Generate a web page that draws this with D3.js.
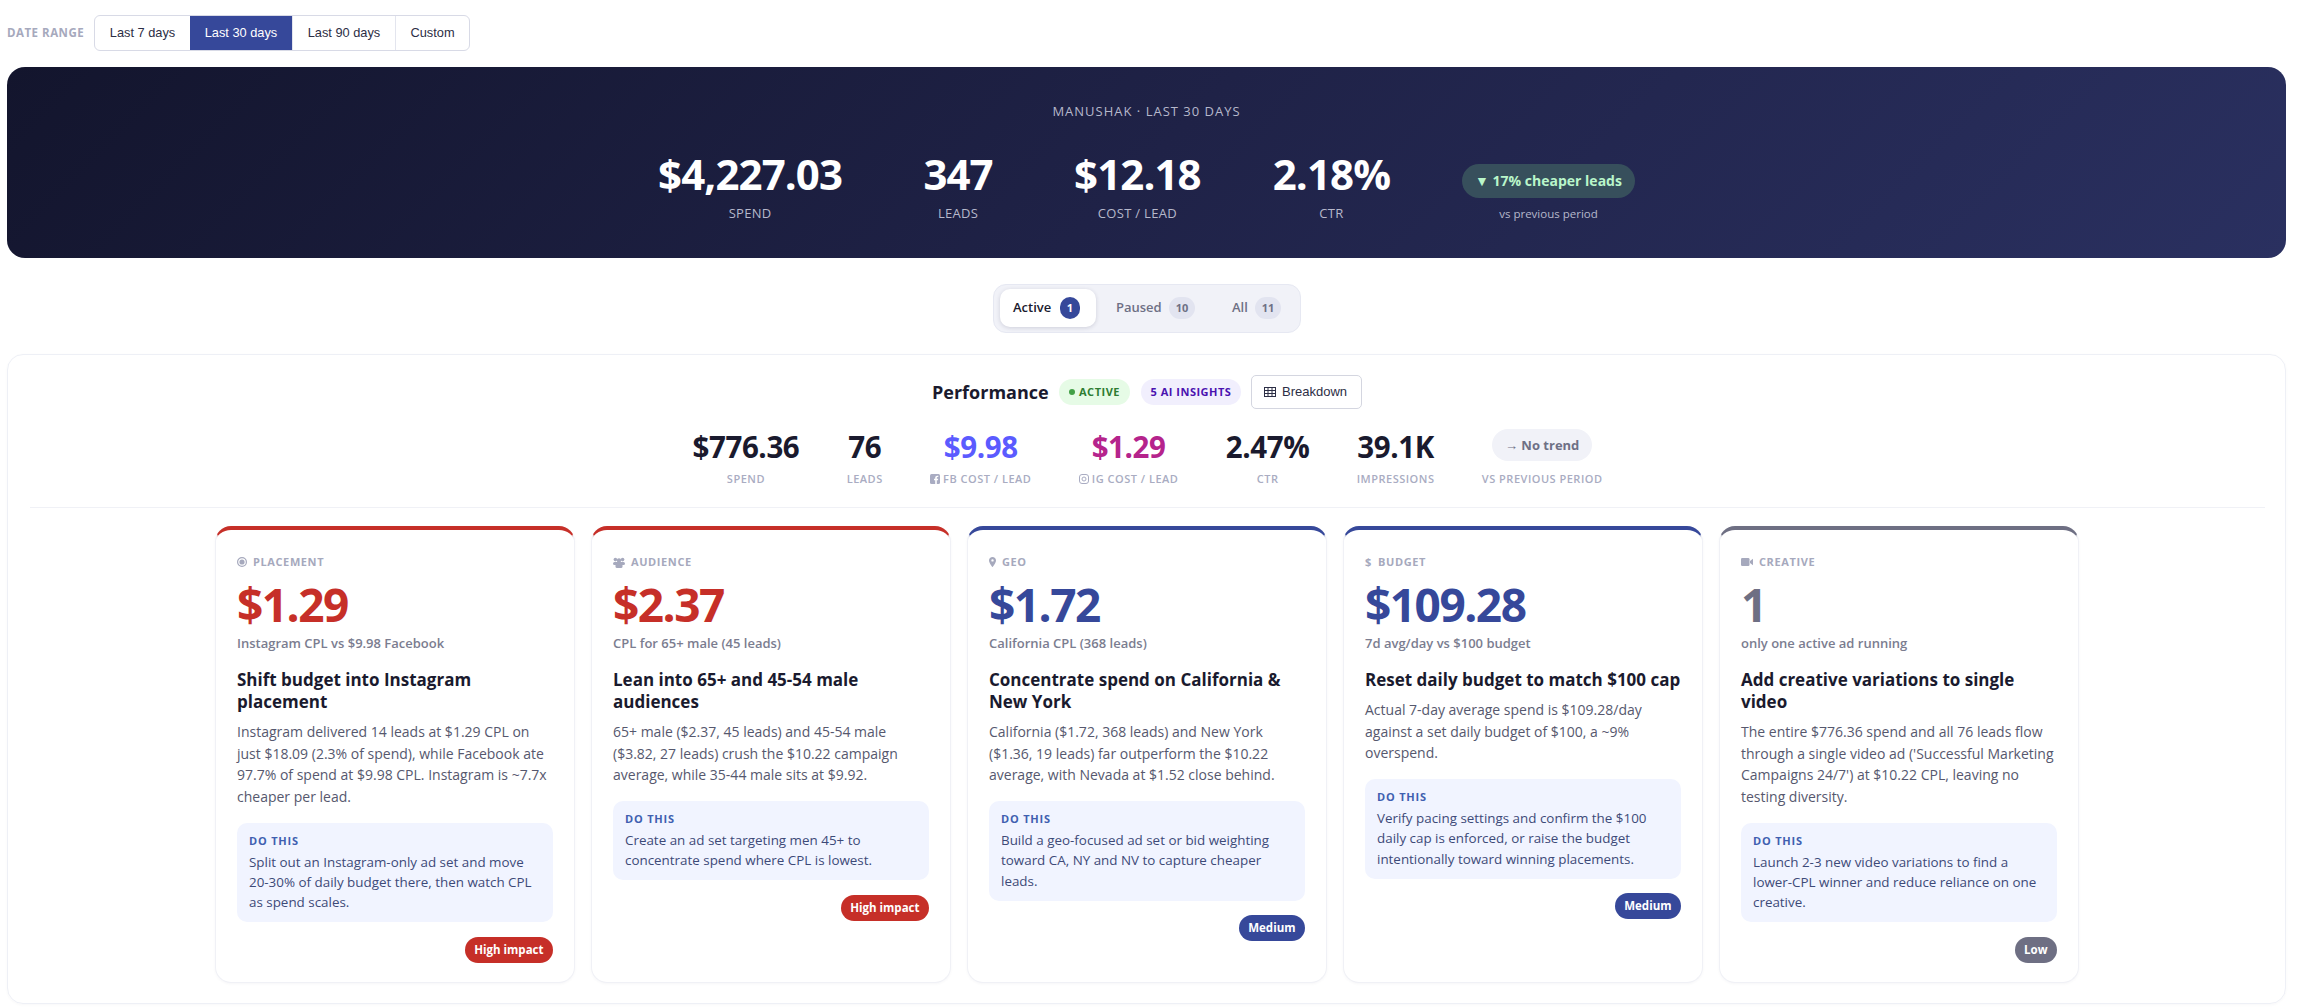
<!DOCTYPE html>
<html>
<head>
<meta charset="utf-8">
<title>Manushak performance</title>
<script src="https://cdn.jsdelivr.net/npm/d3@7"></script>
<style>
  html, body { margin: 0; background: #fff; width: 2299px; height: 1008px; overflow: hidden; }
  body { font-family: "Open Sans", sans-serif; position: relative; color: #1a1a2e; }
  .abs { position: absolute; }
  .row { display: flex; justify-content: center; align-items: flex-start; }

  #rangeLabel { left: 7px; top: 25px; font-size: 11.5px; line-height: 16px; font-weight: 700; letter-spacing: .5px; color: #a6a9bd; }
  #range { left: 94px; top: 15px; height: 34px; display: flex; border: 1px solid #d8dae6; border-radius: 6px; overflow: hidden; font-family: "Liberation Sans", Arial, sans-serif; font-size: 12.8px; }
  #range div { line-height: 34px; text-align: center; color: #2c2e45; border-left: 1px solid #e3e5ee; }
  #range div:first-child { border-left: 0; }
  #range div.on { background: #36489a; color: #fff; border-left: 0; }

  #hero { left: 7px; top: 67px; width: 2279px; height: 191px; border-radius: 18px; background: linear-gradient(135deg, #13152d 0%, #1f2247 50%, #2a3060 100%); color: #fff; }
  #heroTitle { left: 0; right: 0; top: 35px; text-align: center; font-size: 13px; line-height: 18px; letter-spacing: 1px; color: #b6b8cb; }
  #heroRow { left: 0; right: 0; top: 81.7px; gap: 72px; }
  .hItem { min-width: 88px; text-align: center; }
  .hVal { font-size: 42px; line-height: 50px; font-weight: 700; letter-spacing: -.9px; white-space: nowrap; }
  .hLab { margin-top: 5.9px; font-size: 13px; line-height: 16px; color: #b6b8cb; letter-spacing: .3px; white-space: nowrap; }
  #heroPill { margin-top: 15px; height: 34px; line-height: 34px; padding: 0 13px; border-radius: 17px; background: #374f5c; color: #b9f6ca; font-size: 14px; font-weight: 700; white-space: nowrap; }
  #heroSub { margin-top: 8px; font-size: 11.5px; line-height: 16px; color: #b6b8cb; text-align: center; }

  #seg { left: 993px; top: 284px; width: 306px; height: 47px; border: 1px solid #e6e8f2; border-radius: 13px; background: #f1f2f8; }
  .tab { position: absolute; top: 4px; height: 38px; line-height: 36px; font-size: 13px; font-weight: 600; color: #6e7085; white-space: nowrap; }
  .tab.on { background: #fff; border-radius: 10px; box-shadow: 0 1px 4px rgba(30,30,70,.16); color: #1a1a2e; }
  .tab b { position: absolute; top: 8px; height: 22px; line-height: 22px; border-radius: 11px; text-align: center; font-size: 11px; font-weight: 700; background: #e2e4f0; color: #6e7085; }
  .tab.on b { background: #36489a; color: #fff; }

  #main { left: 7px; top: 354px; width: 2277px; height: 648px; border: 1px solid #eef0f6; border-radius: 16px; box-shadow: 0 1px 3px rgba(30,30,70,.03); }
  #perfHead { left: 0; top: 375px; width: 2299px; height: 34px; }
  #perfHead > * { position: absolute; white-space: nowrap; }
  #perfTitle { left: 932px; top: 5px; font-size: 18px; line-height: 24px; font-weight: 700; color: #1a1a2e; }
  .hp { top: 4px; height: 26px; line-height: 26px; border-radius: 13px; font-size: 11px; font-weight: 700; letter-spacing: .5px; text-align: center; }
  #pActive { left: 1059px; width: 71px; background: #e6fbe6; color: #2e7d32; }
  #pActive i { display: inline-block; width: 6px; height: 6px; border-radius: 50%; background: #43a047; margin-right: 4px; vertical-align: 1px; }
  #pInsights { left: 1141px; width: 100px; background: #f1effd; color: #4a12b0; }
  #breakdown { left: 1251px; top: 0; width: 109px; height: 32px; border: 1px solid #d4d6e0; border-radius: 5px; font-family: "Liberation Sans", Arial, sans-serif; font-size: 13px; line-height: 32px; color: #2c2e45; background: #fff; }
  #breakdown svg { position: absolute; left: 12px; top: 10px; }
  #breakdown span { position: absolute; left: 30px; top: 0; }

  #statRow { left: -2px; width: 2299px; top: 426.7px; gap: 47.4px; }
  .sItem { text-align: center; }
  .sVal { font-size: 29.5px; line-height: 40px; font-weight: 700; letter-spacing: -.4px; white-space: nowrap; height: 40px; }
  .sLab { margin-top: 5.3px; font-size: 11px; line-height: 14px; font-weight: 600; letter-spacing: .5px; color: #a9acc2; white-space: nowrap; }
  .sLab svg { vertical-align: -1.5px; margin-right: 3px; }
  .sPill { display: inline-block; vertical-align: top; margin-top: 2.3px; height: 32px; line-height: 32px; padding: 0 13px; border-radius: 16px; background: #f1f2f8; color: #6e7085; font-size: 13px; font-weight: 700; letter-spacing: 0; }
  #rule { left: 30px; width: 2235px; top: 507px; height: 1px; background: #f0f1f6; }

  .card { box-sizing: border-box; border: 1px solid #f0f1f6; border-top-width: 4px; border-top-style: solid; border-radius: 16px; top: 526px; height: 457px; padding: 24px 21px 0; box-shadow: 0 1px 3px rgba(30,30,70,.04); background: #fff; }
  .cat { height: 16px; line-height: 16px; font-size: 11px; font-weight: 700; letter-spacing: .6px; color: #a6a9bd; display: flex; align-items: center; gap: 6px; }
  .big { margin-top: 9.3px; font-size: 46px; line-height: 50px; font-weight: 700; letter-spacing: -1.5px; }
  .sub { margin-top: 5px; font-size: 13px; line-height: 18px; font-weight: 600; color: #7b7d90; }
  .ttl { margin-top: 16.5px; font-size: 17px; line-height: 22px; font-weight: 700; color: #1a1a2e; white-space: pre-line; }
  .txt { margin-top: 8.5px; font-size: 14px; line-height: 21.6px; color: #56586e; white-space: pre-line; }
  .box { margin-top: 15px; padding: 12px 12px 9.5px; background: #f1f4ff; border-radius: 10px; }
  .boxT { font-size: 11px; line-height: 12px; font-weight: 700; letter-spacing: .8px; color: #3f5fb0; margin-bottom: 5px; }
  .boxB { font-size: 13.4px; line-height: 20.4px; color: #3d4a78; white-space: pre-line; }
  .bWrap { margin-top: 14.3px; display: flex; justify-content: flex-end; }
  .badge { height: 26px; line-height: 26px; border-radius: 13px; padding: 0 9.5px; color: #fff; font-size: 11.5px; font-weight: 700; }
</style>
</head>
<body>
<script>
// Date range buttons
const rangeOptions = ["Last 7 days", "Last 30 days", "Last 90 days", "Custom"];
const rangeActive = "Last 30 days";

// Account summary
const heroTitle = "MANUSHAK \u00b7 LAST 30 DAYS";
const heroLabels = ["SPEND", "LEADS", "COST / LEAD", "CTR"];
const heroValues = ["$4,227.03", "347", "$12.18", "2.18%"];
const heroTrend = "\u25bc 17% cheaper leads";
const heroTrendNote = "vs previous period";

// Status tabs
const tabNames = ["Active", "Paused", "All"];
const tabCounts = [1, 10, 11];

// Campaign stats
const statLabels = ["SPEND", "LEADS", "FB COST / LEAD", "IG COST / LEAD", "CTR", "IMPRESSIONS"];
const statValues = ["$776.36", "76", "$9.98", "$1.29", "2.47%", "39.1K"];
const statColors = ["#1a1a2e", "#1a1a2e", "#5b5bff", "#b5248c", "#1a1a2e", "#1a1a2e"];

// Insight cards
const categories = ["PLACEMENT", "AUDIENCE", "GEO", "BUDGET", "CREATIVE"];
const metrics = ["$1.29", "$2.37", "$1.72", "$109.28", "1"];
const metricNotes = [
  "Instagram CPL vs $9.98 Facebook",
  "CPL for 65+ male (45 leads)",
  "California CPL (368 leads)",
  "7d avg/day vs $100 budget",
  "only one active ad running"
];
const headlines = [
  "Shift budget into Instagram\nplacement",
  "Lean into 65+ and 45-54 male\naudiences",
  "Concentrate spend on California &\nNew York",
  "Reset daily budget to match $100 cap",
  "Add creative variations to single\nvideo"
];
const details = [
  "Instagram delivered 14 leads at $1.29 CPL on\njust $18.09 (2.3% of spend), while Facebook ate\n97.7% of spend at $9.98 CPL. Instagram is ~7.7x\ncheaper per lead.",
  "65+ male ($2.37, 45 leads) and 45-54 male\n($3.82, 27 leads) crush the $10.22 campaign\naverage, while 35-44 male sits at $9.92.",
  "California ($1.72, 368 leads) and New York\n($1.36, 19 leads) far outperform the $10.22\naverage, with Nevada at $1.52 close behind.",
  "Actual 7-day average spend is $109.28/day\nagainst a set daily budget of $100, a ~9%\noverspend.",
  "The entire $776.36 spend and all 76 leads flow\nthrough a single video ad ('Successful Marketing\nCampaigns 24/7') at $10.22 CPL, leaving no\ntesting diversity."
];
const actions = [
  "Split out an Instagram-only ad set and move\n20-30% of daily budget there, then watch CPL\nas spend scales.",
  "Create an ad set targeting men 45+ to\nconcentrate spend where CPL is lowest.",
  "Build a geo-focused ad set or bid weighting\ntoward CA, NY and NV to capture cheaper\nleads.",
  "Verify pacing settings and confirm the $100\ndaily cap is enforced, or raise the budget\nintentionally toward winning placements.",
  "Launch 2-3 new video variations to find a\nlower-CPL winner and reduce reliance on one\ncreative."
];
const impacts = ["High impact", "High impact", "Medium", "Medium", "Low"];

const impactColor = d3.scaleOrdinal()
  .domain(["High impact", "Medium", "Low"])
  .range(["#c62f28", "#36489a", "#6e6f83"]);

const iconColor = "#a6a9bd";

// category icons, one per card
const catIcon = {
  PLACEMENT: sel => {
    const s = icon(sel, 10, 10);
    s.append("circle").attr("cx", 5).attr("cy", 5).attr("r", 4.4).attr("fill", "none").attr("stroke", iconColor).attr("stroke-width", 1.2);
    s.append("circle").attr("cx", 5).attr("cy", 5).attr("r", 2.6).attr("fill", iconColor);
  },
  AUDIENCE: sel => {
    const s = icon(sel, 12, 11).attr("fill", iconColor);
    s.append("circle").attr("cx", 2.4).attr("cy", 2.6).attr("r", 1.8);
    s.append("circle").attr("cx", 9.6).attr("cy", 2.6).attr("r", 1.8);
    s.append("circle").attr("cx", 6).attr("cy", 3.4).attr("r", 2.2);
    s.append("rect").attr("x", 0).attr("y", 5).attr("width", 12).attr("height", 3).attr("rx", 1.5);
    s.append("rect").attr("x", 2.5).attr("y", 6).attr("width", 7).attr("height", 5).attr("rx", 1.5);
  },
  GEO: sel => {
    const s = icon(sel, 7, 10);
    s.append("path").attr("fill", iconColor).attr("fill-rule", "evenodd")
      .attr("d", "M3.5 0C1.6 0 0 1.5 0 3.4C0 5.8 3.5 10 3.5 10C3.5 10 7 5.8 7 3.4C7 1.5 5.4 0 3.5 0ZM3.5 2.2A1.2 1.2 0 1 1 3.5 4.6A1.2 1.2 0 1 1 3.5 2.2Z");
  },
  BUDGET: sel => {
    sel.append("span").style("width", "7px").style("font-weight", 700).text("$");
  },
  CREATIVE: sel => {
    const s = icon(sel, 12, 8).attr("fill", iconColor);
    s.append("rect").attr("width", 8.5).attr("height", 8).attr("rx", 1.2);
    s.append("path").attr("d", "M9 3L12 .8V7.2L9 5Z");
  }
};

const body = d3.select("body");

// --- date range
body.append("div").attr("id", "rangeLabel").attr("class", "abs").text("DATE RANGE");
body.append("div").attr("id", "range").attr("class", "abs")
  .selectAll("div").data(rangeOptions).join("div")
    .classed("on", d => d === rangeActive)
    .style("width", (d, i) => [95, 102, 102, 73][i] + "px")
    .text(d => d);

// --- hero banner
const hero = body.append("div").attr("id", "hero").attr("class", "abs");
hero.append("div").attr("id", "heroTitle").attr("class", "abs").text(heroTitle);
const heroRow = hero.append("div").attr("id", "heroRow").attr("class", "abs row");
const hItems = heroRow.selectAll(".hItem").data(heroValues).join("div").attr("class", "hItem");
hItems.append("div").attr("class", "hVal").text(d => d);
hItems.append("div").attr("class", "hLab").text((d, i) => heroLabels[i]);
const hTrend = heroRow.append("div");
hTrend.append("div").attr("id", "heroPill").text(heroTrend);
hTrend.append("div").attr("id", "heroSub").text(heroTrendNote);

// --- tabs
const seg = body.append("div").attr("id", "seg").attr("class", "abs");
const tabBoxes = [[6, 96, 13, 60], [122, 80, 0, 53], [238, 56, 0, 23]];
const tabs = seg.selectAll(".tab").data(tabNames).join("div")
  .attr("class", (d, i) => i === 0 ? "tab on" : "tab")
  .style("left", (d, i) => tabBoxes[i][0] + "px")
  .style("width", (d, i) => tabBoxes[i][1] + "px");
tabs.append("span").style("margin-left", (d, i) => tabBoxes[i][2] + "px").text(d => d);
tabs.append("b")
  .style("left", (d, i) => tabBoxes[i][3] + "px")
  .style("width", (d, i) => (i === 0 ? 20 : 26) + "px")
  .text((d, i) => tabCounts[i]);

// --- main panel
body.append("div").attr("id", "main").attr("class", "abs");
const head = body.append("div").attr("id", "perfHead").attr("class", "abs");
head.append("div").attr("id", "perfTitle").text("Performance");
const pa = head.append("div").attr("id", "pActive").attr("class", "hp");
pa.append("i");
pa.append("span").text("ACTIVE");
head.append("div").attr("id", "pInsights").attr("class", "hp").text("5 AI INSIGHTS");
const bd = head.append("div").attr("id", "breakdown");
gridIcon(bd);
bd.append("span").text("Breakdown");

// --- stats row
const statRow = body.append("div").attr("id", "statRow").attr("class", "abs row");
const sItems = statRow.selectAll(".sItem").data(statValues).join("div").attr("class", "sItem");
sItems.append("div").attr("class", "sVal").style("color", (d, i) => statColors[i]).text(d => d);
const sLabs = sItems.append("div").attr("class", "sLab");
sLabs.filter((d, i) => i === 2).each(function() { fbIcon(d3.select(this)); });
sLabs.filter((d, i) => i === 3).each(function() { igIcon(d3.select(this)); });
sLabs.append("span").text((d, i) => statLabels[i]);
const trendItem = statRow.append("div").attr("class", "sItem");
trendItem.append("div").attr("class", "sVal").append("span").attr("class", "sPill").text("\u2192 No trend");
trendItem.append("div").attr("class", "sLab").text("VS PREVIOUS PERIOD");
body.append("div").attr("id", "rule").attr("class", "abs");

// --- insight cards
const x = d3.scaleBand().domain(categories).range([215, 2079]).paddingInner(16 / 376);
const cards = body.selectAll(".card").data(categories).join("div")
  .attr("class", "card abs")
  .style("left", d => x(d) + "px")
  .style("width", x.bandwidth() + "px")
  .style("border-top-color", (d, i) => impactColor(impacts[i]));

const cats = cards.append("div").attr("class", "cat");
cats.each(function(d) { catIcon[d](d3.select(this)); });
cats.append("span").text(d => d);
cards.append("div").attr("class", "big").style("color", (d, i) => impactColor(impacts[i])).text((d, i) => metrics[i]);
cards.append("div").attr("class", "sub").text((d, i) => metricNotes[i]);
cards.append("div").attr("class", "ttl").text((d, i) => headlines[i]);
cards.append("div").attr("class", "txt").text((d, i) => details[i]);
const box = cards.append("div").attr("class", "box");
box.append("div").attr("class", "boxT").text("DO THIS");
box.append("div").attr("class", "boxB").text((d, i) => actions[i]);
cards.append("div").attr("class", "bWrap").append("div").attr("class", "badge")
  .style("background", (d, i) => impactColor(impacts[i]))
  .text((d, i) => impacts[i]);

// --- small icons
function icon(sel, w, h) {
  return sel.append("svg").attr("width", w).attr("height", h).attr("viewBox", [0, 0, w, h]);
}
function gridIcon(sel) {
  const s = icon(sel, 12, 12).attr("fill", "none").attr("stroke", "#2c2e45").attr("stroke-width", 1);
  s.append("rect").attr("x", .5).attr("y", 1.5).attr("width", 11).attr("height", 9);
  s.append("path").attr("d", "M0.5 4.5H11.5M0.5 7.5H11.5M4 1.5V10.5M8 1.5V10.5");
}
function fbIcon(sel) {
  const s = icon(sel, 10, 10);
  s.append("rect").attr("width", 10).attr("height", 10).attr("rx", 1.5).attr("fill", "#a9acc2");
  s.append("path").attr("d", "M6.8 10V6.2H8L8.2 4.7H6.8V3.9C6.8 3.4 7 3.1 7.6 3.1H8.3V1.8C8 1.8 7.6 1.7 7.2 1.7C6 1.7 5.2 2.4 5.2 3.7V4.7H4V6.2H5.2V10Z").attr("fill", "#fff");
}
function igIcon(sel) {
  const s = icon(sel, 10, 10).attr("fill", "none").attr("stroke", "#a9acc2").attr("stroke-width", 1);
  s.append("rect").attr("x", .5).attr("y", .5).attr("width", 9).attr("height", 9).attr("rx", 2.5);
  s.append("circle").attr("cx", 5).attr("cy", 5).attr("r", 2);
}
</script>
</body>
</html>
